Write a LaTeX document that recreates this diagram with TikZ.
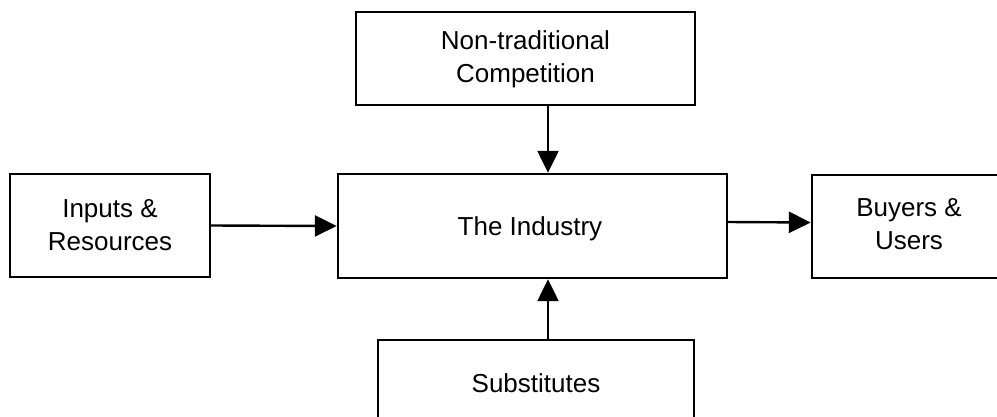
\documentclass[tikz,border=0pt]{standalone}
\usepackage{fontspec}
\setmainfont{Liberation Sans}
\usetikzlibrary{arrows.meta}
\begin{document}
\begin{tikzpicture}[x=1pt,y=-1pt,
  box/.style={draw,line width=2.4pt,inner sep=0pt},
  lbl/.style={align=center,inner sep=0pt,font=\fontsize{26}{33}\selectfont},
  arr/.style={line width=2.4pt,-{Triangle[length=22pt,width=21pt]}}]
\useasboundingbox (0,0) rectangle (997,416);
% boxes
\node[box,minimum width=339pt,minimum height=93pt] (top) at (525.5,58.5) {};
\node[box,minimum width=200pt,minimum height=103pt] (inp) at (110,225.5) {};
\node[box,minimum width=389pt,minimum height=104pt] (ind) at (532.5,226) {};
\node[box,minimum width=194pt,minimum height=103pt] (buy) at (909,226.5) {};
\node[box,minimum width=316pt,minimum height=104pt] (sub) at (536,392) {};
% labels
\node[lbl] (topT) at (525.5,59) {Non-traditional\\Competition};
\node[lbl] (inpT) at (110,225) {Inputs \&\\Resources};
\node[lbl] (indT) at (530,229) {The Industry};
\node[lbl] (buyT) at (909,224) {Buyers \&\\Users};
\node[lbl] (subT) at (536,383) {Substitutes};
% connectors
\draw[arr] (inp.east) -- (ind.west);
\draw[arr] ([yshift=4pt]ind.east) -- ([yshift=4pt]buy.west);
\draw[arr] ([xshift=22.5pt]top.south) -- ([xshift=22.5pt]top.south |- ind.north);
\draw[arr] ([xshift=12pt]sub.north) -- ([xshift=12pt]sub.north |- ind.south);
\end{tikzpicture}
\end{document}
